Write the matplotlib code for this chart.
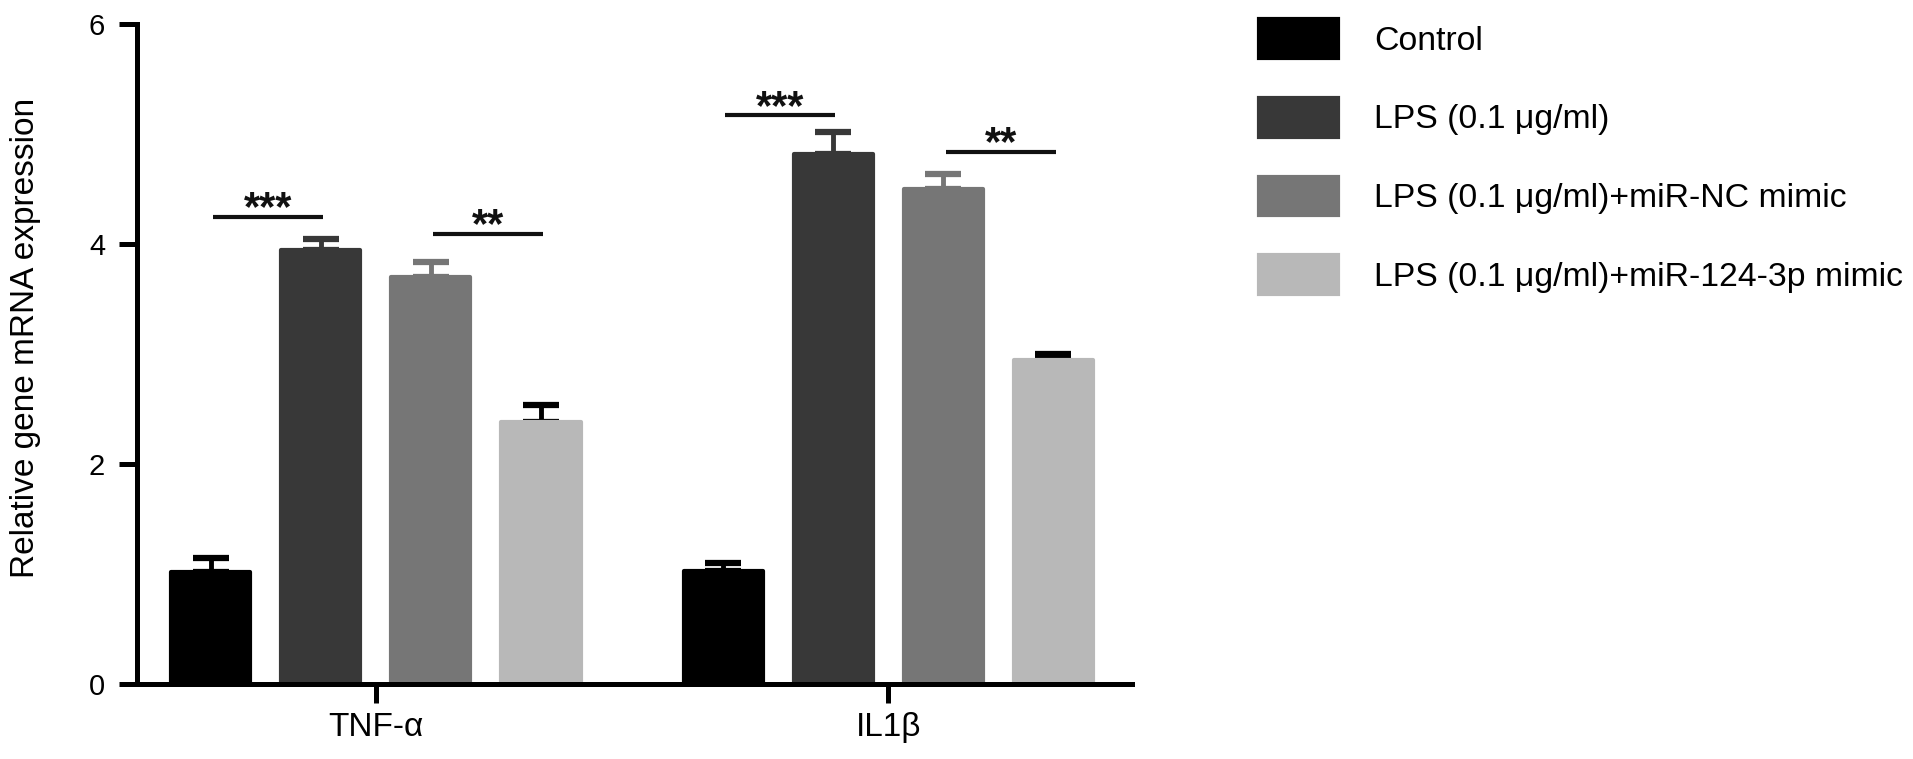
import matplotlib
matplotlib.use("Agg")
import matplotlib.pyplot as plt
from matplotlib.patches import Patch

plt.rcParams['font.family'] = ['Liberation Sans', 'DejaVu Sans']

# data
genes = ['TNF-α', 'IL1β']
groups = ['Control', 'LPS (0.1 μg/ml)', 'LPS (0.1 μg/ml)+miR-NC mimic',
          'LPS (0.1 μg/ml)+miR-124-3p mimic']
control_mean = [1.02, 1.03]
lps_mean = [3.95, 4.82]
nc_mean = [3.70, 4.50]
mimic_mean = [2.38, 2.95]
control_err = [0.13, 0.07]
lps_err = [0.10, 0.20]
nc_err = [0.14, 0.14]
mimic_err = [0.16, 0.05]

# significance brackets: gene index, bar from, bar to, height, label
sig_gene = [0, 0, 1, 1]
sig_from = [0, 2, 0, 2]
sig_to = [1, 3, 1, 3]
sig_y = [4.25, 4.09, 5.17, 4.84]
sig_text = ['***', '**', '***', '**']

bar_colors = ['#000000', '#383838', '#767676', '#b8b8b8']
err_colors = ['#000000', '#383838', '#767676', '#000000']

group_gap = 4.655
width = 0.72

fig = plt.figure(figsize=(19.13, 7.59), dpi=100)
ax = fig.add_axes([137 / 1913, 1 - 684 / 759, 995 / 1913, 660 / 759])

all_means = [control_mean, lps_mean, nc_mean, mimic_mean]
all_errs = [control_err, lps_err, nc_err, mimic_err]
for i in range(4):
    xs = [g * group_gap + i for g in range(len(genes))]
    ax.errorbar(xs, all_means[i], yerr=[[0] * len(genes), all_errs[i]], fmt='none',
                ecolor=err_colors[i], elinewidth=3.5, capsize=13, capthick=4.5, zorder=1)
    ax.bar(xs, all_means[i], width=width, color=bar_colors[i], edgecolor=bar_colors[i],
           linewidth=3, joinstyle='round', zorder=2)

for g, a, b, y, t in zip(sig_gene, sig_from, sig_to, sig_y, sig_text):
    x0 = g * group_gap + a + 0.02
    x1 = g * group_gap + b + 0.02
    ax.plot([x0, x1], [y, y], color='#111111', lw=3, solid_capstyle='butt', zorder=3)
    ax.text((x0 + x1) / 2, y - 0.03, t, ha='center', va='baseline', fontsize=30,
            fontweight='bold', color='#111111')

ax.set_xlim(-0.668, 8.368)
ax.set_ylim(0, 6)
ax.set_yticks([0, 2, 4, 6])
ax.set_xticks([1.5, group_gap + 1.5])
ax.set_xticklabels(genes, fontsize=24)
ax.tick_params(axis='y', labelsize=21, length=13, width=3.6, pad=10)
ax.tick_params(axis='x', length=14, width=3.6, pad=6)
for s in ['top', 'right']:
    ax.spines[s].set_visible(False)
for s in ['left', 'bottom']:
    ax.spines[s].set_linewidth(3.6)

fig.text(26 / 1913, 1 - 338 / 759, 'Relative gene mRNA expression', rotation=90,
         ha='center', va='center', fontsize=24)

handles = [Patch(facecolor=c, edgecolor=c, linewidth=3, joinstyle='round') for c in bar_colors]
fs = 24.3
fs_px = fs * 100 / 72
ax.legend(handles, groups, loc='upper left', bbox_to_anchor=(1259 / 1913, 1 - 19 / 759),
          bbox_transform=fig.transFigure, frameon=False, fontsize=fs, borderpad=0,
          borderaxespad=0, handlelength=79 / fs_px, handleheight=47 / fs_px,
          handletextpad=36 / fs_px, labelspacing=40 / fs_px)

fig.savefig('out.png', dpi=100)
